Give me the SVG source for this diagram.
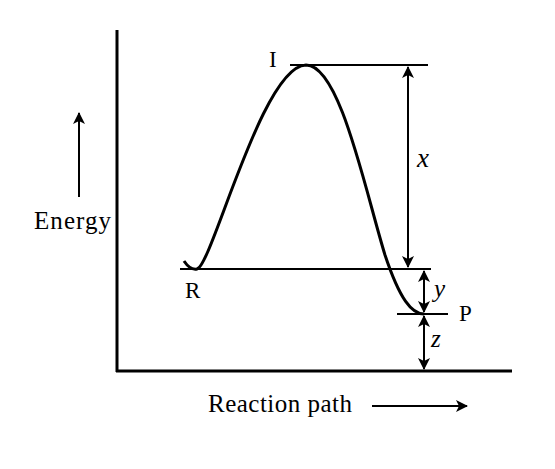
<svg xmlns="http://www.w3.org/2000/svg" width="555" height="469" viewBox="0 0 555 469">
<style>
.ln{stroke:#000;stroke-width:3;fill:none}
.th{stroke:#000;stroke-width:2;fill:none}
.t{font-family:"Liberation Serif","Times New Roman",serif;fill:#000}
.it{font-style:italic}
</style>
<defs>
<marker id="ah" viewBox="0 0 12 12" refX="11" refY="6" markerWidth="12" markerHeight="12" markerUnits="userSpaceOnUse" orient="auto-start-reverse">
<path d="M0,0 L12,6 L0,12 L3,6 Z" fill="#000"/>
</marker>
</defs>
<g id="axes">
<line class="ln" x1="117" y1="30" x2="117" y2="372"/>
<line class="ln" x1="116" y1="371" x2="512" y2="371"/>
</g>
<g id="curve">
<path class="ln" d="M184,261 C188,267 192,270 197,269 C212,266 262,66 306,65 C340,65 365,190 385,255 C400,300 412,314 424,314"/>
</g>
<g id="connectors">
<line class="th" x1="290" y1="65" x2="428" y2="65"/>
<line class="th" x1="180" y1="269" x2="431" y2="269"/>
<line class="th" x1="397" y1="314" x2="448" y2="314"/>
<line class="th" x1="408" y1="67" x2="408" y2="267" marker-start="url(#ah)" marker-end="url(#ah)"/>
<line class="th" x1="424" y1="271" x2="424" y2="312" marker-start="url(#ah)" marker-end="url(#ah)"/>
<line class="th" x1="424" y1="316" x2="424" y2="369" marker-start="url(#ah)" marker-end="url(#ah)"/>
<line class="th" x1="79" y1="197" x2="79" y2="113" marker-end="url(#ah)"/>
<line class="th" x1="372" y1="406" x2="467" y2="406" marker-end="url(#ah)"/>
</g>
<g id="labels">
<text class="t" x="269" y="67" font-size="23">I</text>
<text class="t" x="185" y="298" font-size="23">R</text>
<text class="t" x="459" y="321" font-size="23">P</text>
<text class="t it" x="417" y="167" font-size="27">x</text>
<text class="t it" x="434" y="297" font-size="25">y</text>
<text class="t it" x="431" y="347" font-size="25">z</text>
<text class="t" x="34" y="229" font-size="25" textLength="77">Energy</text>
<text class="t" x="208" y="412" font-size="25" textLength="144">Reaction path</text>
</g>
</svg>
